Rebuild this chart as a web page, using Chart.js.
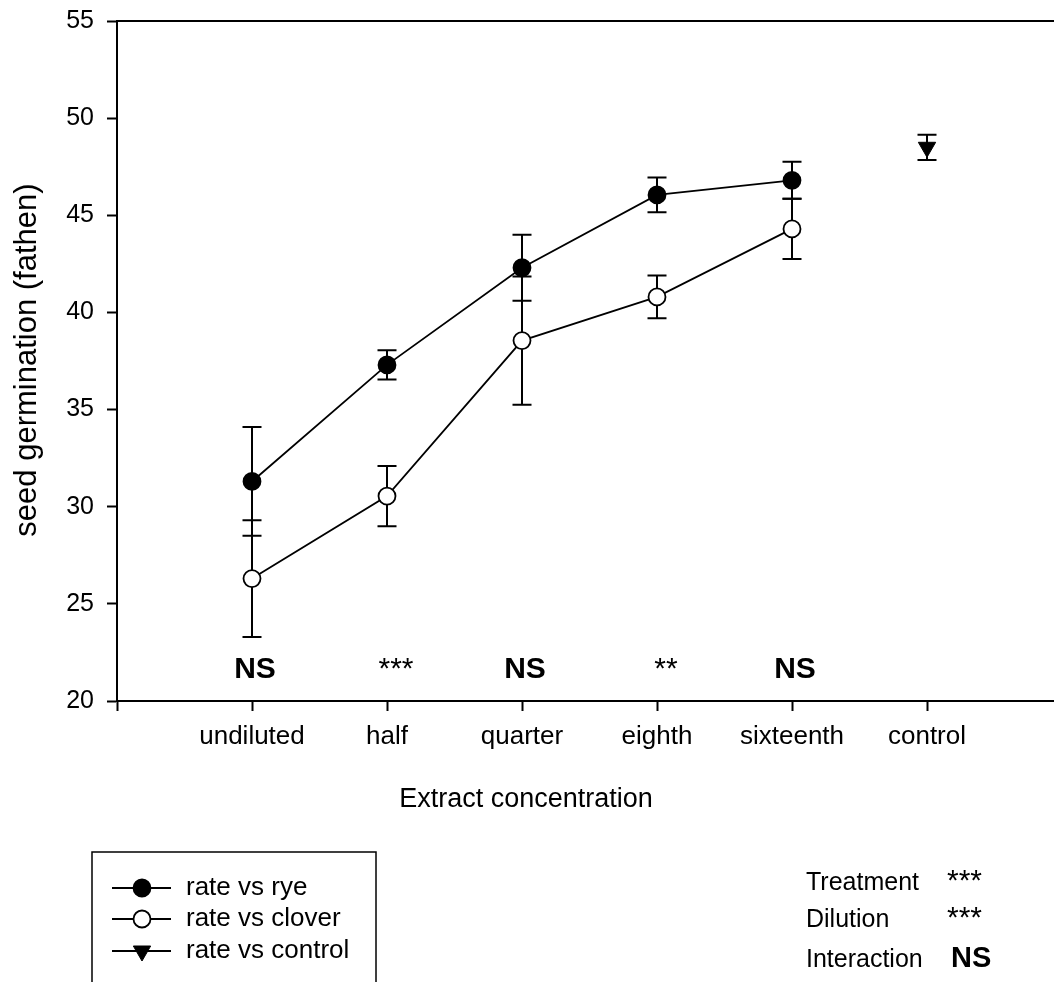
<!DOCTYPE html>
<html>
<head>
<meta charset="utf-8">
<title>Seed germination</title>
<script src="https://cdn.jsdelivr.net/npm/chart.js@4/dist/chart.umd.min.js"></script>
<style>
  html, body { margin: 0; padding: 0; background: #fff; overflow: hidden; }
  #chart { position: absolute; left: 0; top: 0; }
</style>
</head>
<body>
<canvas id="chart" width="1073" height="982"></canvas>
<script>
// extract dilutions along the x axis (index 5 is the untreated control)
const categories = ['undiluted', 'half', 'quarter', 'eighth', 'sixteenth', 'control'];

// mean germination and error for each neighbour
const ryeMean = [31.3, 37.3, 42.3, 46.05, 46.8];
const ryeErr = [2.8, 0.75, 1.7, 0.9, 0.95];
const cloverMean = [26.3, 30.55, 38.55, 40.8, 44.3];
const cloverErr = [3.0, 1.55, 3.3, 1.1, 1.55];
const controlMean = [48.5];
const controlErr = [0.65];

// significance per dilution, and the ANOVA summary
const sigLabels = ['NS', '***', 'NS', '**', 'NS'];
const anovaTerms = ['Treatment', 'Dilution', 'Interaction'];
const anovaSig = ['***', '***', 'NS'];

const yTicks = [20, 25, 30, 35, 40, 45, 50, 55];

const FONT = "'Liberation Sans', Arial, Helvetica, sans-serif";
Chart.defaults.font.family = FONT;
Chart.defaults.color = '#000';

function toPoints(values, start) {
    return values.map((v, i) => ({ x: start + i, y: v }));
}

// vertical error bars with caps, under the markers
const errorBars = {
    id: 'errorBars',
    beforeDatasetsDraw(chart) {
        const ctx = chart.ctx;
        const y = chart.scales.y;
        ctx.save();
        ctx.strokeStyle = '#000';
        ctx.lineWidth = 2;
        chart.data.datasets.forEach((ds, di) => {
            const meta = chart.getDatasetMeta(di);
            meta.data.forEach((pt, i) => {
                const v = ds.data[i].y;
                const e = ds.errors[i];
                const top = y.getPixelForValue(v + e);
                const bot = y.getPixelForValue(v - e);
                ctx.beginPath();
                ctx.moveTo(pt.x, top);
                ctx.lineTo(pt.x, bot);
                ctx.moveTo(pt.x - 9.5, top);
                ctx.lineTo(pt.x + 9.5, top);
                ctx.moveTo(pt.x - 9.5, bot);
                ctx.lineTo(pt.x + 9.5, bot);
                ctx.stroke();
            });
        });
        ctx.restore();
    }
};

// frame top, titles, significance marks, legend box and ANOVA text
const decorations = {
    id: 'decorations',
    afterDraw(chart) {
        const ctx = chart.ctx;
        const area = chart.chartArea;
        const x = chart.scales.x;
        ctx.save();

        ctx.strokeStyle = '#000';
        ctx.lineWidth = 2;
        ctx.beginPath();
        ctx.moveTo(area.left - 1, area.top);
        ctx.lineTo(area.right, area.top);
        ctx.stroke();

        ctx.fillStyle = '#000';
        ctx.textAlign = 'center';
        ctx.textBaseline = 'middle';
        ctx.font = '27px ' + FONT;
        ctx.fillText('Extract concentration', 526, 800);

        ctx.save();
        ctx.translate(27, 360);
        ctx.rotate(-Math.PI / 2);
        ctx.font = '31px ' + FONT;
        ctx.fillText('seed germination (fathen)', 0, 0);
        ctx.restore();

        ctx.textBaseline = 'alphabetic';
        sigLabels.forEach((s, i) => {
            const px = x.getPixelForValue(i);
            if (s === 'NS') {
                ctx.font = 'bold 30px ' + FONT;
                ctx.fillText(s, px + 3, area.bottom - 23);
            } else {
                ctx.font = '30px ' + FONT;
                ctx.fillText(s, px + 9, area.bottom - 23);
            }
        });

        // legend
        ctx.lineWidth = 1.5;
        ctx.strokeRect(92, 852, 284, 200);
        const rows = [888, 919, 951];
        chart.data.datasets.forEach((ds, i) => {
            const ry = rows[i];
            ctx.strokeStyle = '#000';
            ctx.lineWidth = 1.8;
            ctx.beginPath();
            ctx.moveTo(112, ry);
            ctx.lineTo(171, ry);
            ctx.stroke();
            ctx.lineWidth = ds.pointBorderWidth;
            ctx.strokeStyle = ds.pointBorderColor;
            ctx.fillStyle = ds.pointBackgroundColor;
            Chart.helpers.drawPoint(ctx, {
                pointStyle: ds.pointStyle,
                rotation: ds.pointRotation || 0,
                radius: ds.pointRadius,
                borderWidth: ds.pointBorderWidth
            }, 142, ry);
            ctx.fillStyle = '#000';
            ctx.textAlign = 'left';
            ctx.textBaseline = 'middle';
            ctx.font = '26px ' + FONT;
            ctx.fillText(ds.label, 186, ry);
        });

        // ANOVA summary
        const baselines = [890, 927, 967];
        ctx.textBaseline = 'alphabetic';
        anovaTerms.forEach((t, i) => {
            ctx.font = '25px ' + FONT;
            ctx.fillText(t, 806, baselines[i]);
            if (anovaSig[i] === 'NS') {
                ctx.font = 'bold 29px ' + FONT;
                ctx.fillText(anovaSig[i], 951, baselines[i]);
            } else {
                ctx.font = '30px ' + FONT;
                ctx.fillText(anovaSig[i], 947, baselines[i]);
            }
        });
        ctx.restore();
    }
};

new Chart(document.getElementById('chart'), {
    type: 'scatter',
    data: {
        datasets: [
            {
                label: 'rate vs rye',
                data: toPoints(ryeMean, 0),
                errors: ryeErr,
                showLine: true,
                borderColor: '#000',
                borderWidth: 1.8,
                pointStyle: 'circle',
                pointRadius: 8.5,
                pointBorderWidth: 1.8,
                pointBorderColor: '#000',
                pointBackgroundColor: '#000'
            },
            {
                label: 'rate vs clover',
                data: toPoints(cloverMean, 0),
                errors: cloverErr,
                showLine: true,
                borderColor: '#000',
                borderWidth: 1.8,
                pointStyle: 'circle',
                pointRadius: 8.5,
                pointBorderWidth: 1.8,
                pointBorderColor: '#000',
                pointBackgroundColor: '#fff'
            },
            {
                label: 'rate vs control',
                data: toPoints(controlMean, 5),
                errors: controlErr,
                showLine: false,
                borderColor: '#000',
                borderWidth: 1.8,
                pointStyle: 'triangle',
                pointRotation: 180,
                pointRadius: 10,
                pointBorderWidth: 1,
                pointBorderColor: '#000',
                pointBackgroundColor: '#000'
            }
        ]
    },
    options: {
        responsive: false,
        animation: false,
        devicePixelRatio: 1,
        layout: { padding: { left: 0, top: 21, right: 2, bottom: 0 } },
        plugins: {
            legend: { display: false },
            tooltip: { enabled: false }
        },
        scales: {
            x: {
                type: 'linear',
                min: -1,
                max: 6,
                afterFit: (s) => { s.height = 281; },
                afterBuildTicks: (s) => {
                    s.ticks = [-1, 0, 1, 2, 3, 4, 5, 6].map(v => ({ value: v }));
                },
                ticks: {
                    autoSkip: false,
                    maxRotation: 0,
                    padding: 10,
                    font: { size: 26 },
                    callback: (v) => categories[v] || ''
                },
                grid: { drawOnChartArea: false, tickLength: 10, tickWidth: 2, tickColor: '#000' },
                border: { color: '#000', width: 2 }
            },
            y: {
                min: 20,
                max: 55,
                afterFit: (s) => {
                    s.width = 117;
                    s.paddingTop = 0;
                    s.paddingBottom = 0;
                },
                afterBuildTicks: (s) => {
                    s.ticks = yTicks.map(v => ({ value: v }));
                },
                ticks: { padding: 13, font: { size: 25, lineHeight: 0.6 } },
                grid: { drawOnChartArea: false, tickLength: 10, tickWidth: 2, tickColor: '#000' },
                border: { color: '#000', width: 2 }
            }
        }
    },
    plugins: [errorBars, decorations]
});
</script>
</body>
</html>
